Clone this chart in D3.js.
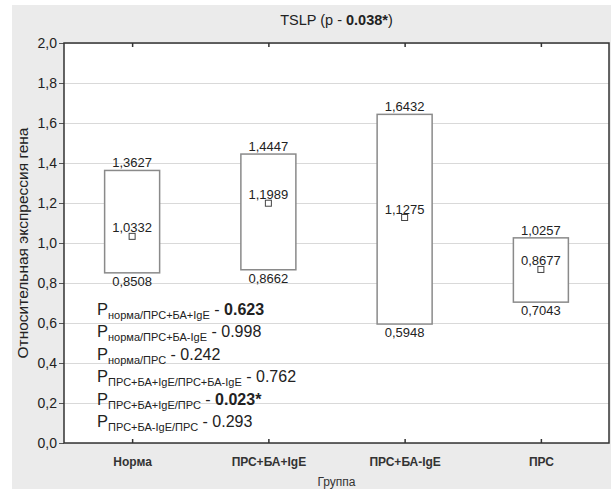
<!DOCTYPE html>
<html>
<head>
<meta charset="utf-8">
<script src="https://cdn.jsdelivr.net/npm/d3@7"></script>
<style>
    body { margin: 0; background: #fff; }
    svg { display: block; }
</style>
</head>
<body>
<div id="chart"></div>
<script>
const groups = ["Норма", "ПРС+БА+IgE", "ПРС+БА-IgE", "ПРС"];
const upperValues = [1.3627, 1.4447, 1.6432, 1.0257];
const medianValues = [1.0332, 1.1989, 1.1275, 0.8677];
const lowerValues = [0.8508, 0.8662, 0.5948, 0.7043];
const yTicks = [0, 0.2, 0.4, 0.6, 0.8, 1.0, 1.2, 1.4, 1.6, 1.8, 2.0];

const pSubscripts = ["норма/ПРС+БА+IgE", "норма/ПРС+БА-IgE", "норма/ПРС",
    "ПРС+БА+IgE/ПРС+БА-IgE", "ПРС+БА+IgE/ПРС", "ПРС+БА-IgE/ПРС"];
const pValues = ["0.623", "0.998", "0.242", "0.762", "0.023*", "0.293"];
const pBold = [true, false, false, false, true, false];

function fmt(v, digits) {
    return v.toFixed(digits).replace(".", ",");
}

function drawChart() {
    const width = 611, height = 490;
    const margin = {top: 43, right: 2, bottom: 47, left: 64};
    const font = "'Liberation Sans', Arial, sans-serif";

    const svg = d3.select("#chart").append("svg")
        .attr("width", width)
        .attr("height", height)
        .attr("font-family", font);

    // gray panel
    svg.append("rect")
        .attr("x", 12).attr("y", 5)
        .attr("width", width - 12).attr("height", height - 6)
        .attr("fill", "#ebebeb");

    const x = d3.scalePoint()
        .domain(groups)
        .range([margin.left, width - margin.right])
        .padding(0.5);

    const y = d3.scaleLinear()
        .domain([0, 2])
        .range([height - margin.bottom, margin.top]);

    svg.append("rect")
        .attr("x", margin.left).attr("y", margin.top)
        .attr("width", width - margin.left - margin.right)
        .attr("height", height - margin.top - margin.bottom)
        .attr("fill", "#fff");

    // gridlines
    svg.append("g")
        .attr("transform", `translate(${margin.left},0)`)
        .call(d3.axisLeft(y).tickValues(yTicks).tickSize(-(width - margin.left - margin.right)).tickFormat(""))
        .call((g) => g.select(".domain").remove())
        .selectAll("line")
        .attr("stroke", "#d9d9d9")
        .attr("stroke-width", 1.2);

    // left axis with labels
    const yAxis = svg.append("g")
        .attr("transform", `translate(${margin.left},0)`)
        .call(d3.axisLeft(y).tickValues(yTicks).tickSize(5).tickPadding(2).tickFormat((d) => fmt(d, 1)));
    yAxis.select(".domain").remove();
    yAxis.selectAll("line").attr("stroke", "#555");
    yAxis.selectAll("text")
        .style("font-size", "14px")
        .style("font-family", font)
        .attr("fill", "#222");

    // boxes
    const boxW = 55;
    const boxes = svg.append("g").selectAll("g")
        .data(groups)
        .join("g");

    boxes.append("rect")
        .attr("x", (d) => x(d) - boxW / 2)
        .attr("y", (d, i) => y(upperValues[i]))
        .attr("width", boxW)
        .attr("height", (d, i) => y(lowerValues[i]) - y(upperValues[i]))
        .attr("fill", "#fff")
        .attr("stroke", "#8a8a8a")
        .attr("stroke-width", 1.5);

    boxes.append("rect")
        .attr("x", (d) => x(d) - 3)
        .attr("y", (d, i) => y(medianValues[i]) - 3)
        .attr("width", 6)
        .attr("height", 6)
        .attr("fill", "#fff")
        .attr("stroke", "#444")
        .attr("stroke-width", 1);

    const labelStyle = (sel) => sel
        .attr("text-anchor", "middle")
        .attr("font-size", "13px")
        .attr("fill", "#222");

    boxes.append("text")
        .attr("x", (d) => x(d))
        .attr("y", (d, i) => y(upperValues[i]) - 3)
        .call(labelStyle)
        .text((d, i) => fmt(upperValues[i], 4));

    boxes.append("text")
        .attr("x", (d) => x(d))
        .attr("y", (d, i) => y(lowerValues[i]) + 13)
        .call(labelStyle)
        .text((d, i) => fmt(lowerValues[i], 4));

    boxes.append("text")
        .attr("x", (d) => x(d))
        .attr("y", (d, i) => y(medianValues[i]) - 4)
        .call(labelStyle)
        .text((d, i) => fmt(medianValues[i], 4));

    // frame
    svg.append("rect")
        .attr("x", margin.left).attr("y", margin.top)
        .attr("width", width - margin.left - margin.right)
        .attr("height", height - margin.top - margin.bottom)
        .attr("fill", "none")
        .attr("stroke", "#333")
        .attr("stroke-width", 1.5);

    // inner ticks on top and bottom
    const xAxis = svg.append("g")
        .attr("transform", `translate(0,${height - margin.bottom})`)
        .call(d3.axisBottom(x).tickSize(-4).tickPadding(14));
    xAxis.select(".domain").remove();
    xAxis.selectAll("line").attr("stroke", "#333").attr("stroke-width", 1.5);
    xAxis.selectAll("text")
        .style("font-size", "12px")
        .style("font-weight", "bold")
        .style("font-family", font)
        .attr("fill", "#333");

    const xTop = svg.append("g")
        .attr("transform", `translate(0,${margin.top})`)
        .call(d3.axisTop(x).tickSize(-4).tickFormat(""));
    xTop.select(".domain").remove();
    xTop.selectAll("line").attr("stroke", "#333").attr("stroke-width", 1.5);

    // p-value annotations
    const ann = svg.append("g")
        .attr("fill", "#222")
        .selectAll("text")
        .data(pSubscripts)
        .join("text")
        .attr("x", 97)
        .attr("y", (d, i) => 315 + i * 22.4);

    ann.append("tspan").attr("font-size", "16.5px").text("P");
    ann.append("tspan").attr("font-size", "11px").attr("dy", 4).text((d) => d);
    ann.append("tspan").attr("font-size", "16px").attr("dy", -4).text(" - ");
    ann.append("tspan")
        .attr("font-size", "16px")
        .attr("font-weight", (d, i) => pBold[i] ? "bold" : "normal")
        .text((d, i) => pValues[i]);

    // title
    const title = svg.append("text")
        .attr("x", (margin.left + width - margin.right) / 2)
        .attr("y", 25)
        .attr("text-anchor", "middle")
        .attr("font-size", "14.5px")
        .attr("fill", "#222");
    title.append("tspan").text("TSLP (p - ");
    title.append("tspan").attr("font-weight", "bold").text("0.038*");
    title.append("tspan").text(")");

    // axis titles
    svg.append("text")
        .attr("transform", `translate(28,${(margin.top + height - margin.bottom) / 2}) rotate(-90)`)
        .attr("text-anchor", "middle")
        .attr("font-size", "15.5px")
        .attr("fill", "#222")
        .text("Относительная экспрессия гена");

    svg.append("text")
        .attr("x", (margin.left + width - margin.right) / 2)
        .attr("y", 486)
        .attr("text-anchor", "middle")
        .attr("font-size", "12px")
        .attr("fill", "#333")
        .text("Группа");
}

drawChart();
</script>
</body>
</html>
